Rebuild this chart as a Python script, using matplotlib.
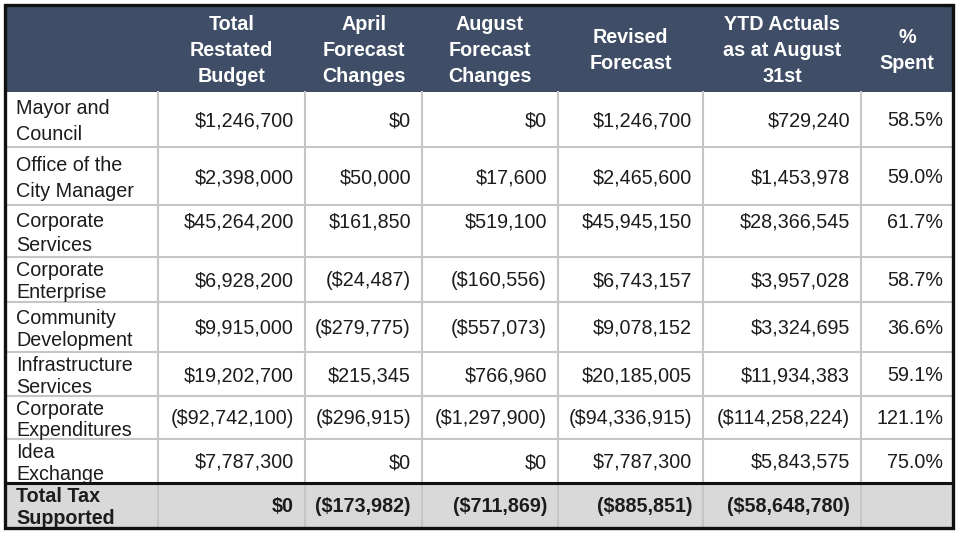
#!/usr/bin/env python3
"""
Budget variance table drawn with matplotlib patches and text.
"""

import matplotlib.pyplot as plt
import matplotlib.patches as patches

# Table data
col_headers = ['Total\nRestated\nBudget', 'April\nForecast\nChanges', 'August\nForecast\nChanges',
               'Revised\nForecast', 'YTD Actuals\nas at August\n31st', '%\nSpent']
row_labels = ['Mayor and\nCouncil', 'Office of the\nCity Manager', 'Corporate\nServices',
              'Corporate\nEnterprise', 'Community\nDevelopment', 'Infrastructure\nServices',
              'Corporate\nExpenditures', 'Idea\nExchange']
total_restated = [1246700, 2398000, 45264200, 6928200, 9915000, 19202700, -92742100, 7787300]
april_changes = [0, 50000, 161850, -24487, -279775, 215345, -296915, 0]
august_changes = [0, 17600, 519100, -160556, -557073, 766960, -1297900, 0]
revised_forecast = [1246700, 2465600, 45945150, 6743157, 9078152, 20185005, -94336915, 7787300]
ytd_actuals = [729240, 1453978, 28366545, 3957028, 3324695, 11934383, -114258224, 5843575]
pct_spent = [58.5, 59.0, 61.7, 58.7, 36.6, 59.1, 121.1, 75.0]
total_label = 'Total Tax\nSupported'
total_values = [0, -173982, -711869, -885851, -58648780]

# Layout in pixels
col_x = [5, 158, 305, 422, 558, 703, 861, 953]
row_y = [5, 92, 147, 205, 257, 302, 352, 396, 439, 483, 528]
label_gap = [26, 26, 24, 22, 23, 22, 21, 22]

colors = {
    'header': '#3f4e66',
    'total': '#d9d9d9',
    'grid': '#c6c6c6',
    'text': '#1c1c1c',
    'border': '#111111',
}
FONT = 'Liberation Sans'
FS = 14.2


def money(v):
    s = f"${abs(v):,}"
    return f"({s})" if v < 0 else s


fig = plt.figure(figsize=(9.6, 5.33), dpi=100)
ax = fig.add_axes([0, 0, 1, 1])
ax.set_xlim(0, 960)
ax.set_ylim(533, 0)
ax.axis('off')


def put_lines(x, yc, text, gap, ha, **kw):
    lines = text.split('\n')
    n = len(lines)
    for k, line in enumerate(lines):
        y = yc + (k - (n - 1) / 2) * gap
        ax.text(x, y + 7, line, ha=ha, va='baseline', family=FONT, fontsize=FS, **kw)


# Header background
ax.add_patch(patches.Rectangle((col_x[0], row_y[0]), col_x[-1] - col_x[0], row_y[1] - row_y[0],
                               facecolor=colors['header'], edgecolor='none'))
# Total row background
ax.add_patch(patches.Rectangle((col_x[0], row_y[-2]), col_x[-1] - col_x[0], row_y[-1] - row_y[-2],
                               facecolor=colors['total'], edgecolor='none'))

# Grid lines
for x in col_x[1:-1]:
    ax.plot([x, x], [row_y[1], row_y[-1]], color=colors['grid'], lw=1.5, zorder=1)
for y in row_y[2:-2]:
    ax.plot([col_x[0], col_x[-1]], [y, y], color=colors['grid'], lw=1.5, zorder=1)

# Borders
ax.plot([col_x[0], col_x[-1]], [row_y[-2], row_y[-2]], color=colors['border'], lw=2.2, zorder=3)
ax.add_patch(patches.Rectangle((col_x[0], row_y[0]), col_x[-1] - col_x[0], row_y[-1] - row_y[0],
                               facecolor='none', edgecolor=colors['border'], lw=2.4, zorder=4))

# Header text
for j, h in enumerate(col_headers):
    xc = (col_x[j + 1] + col_x[j + 2]) / 2
    put_lines(xc, 49, h, 26, 'center', color='white', fontweight='bold')

# Body rows
columns = [total_restated, april_changes, august_changes, revised_forecast, ytd_actuals]
for i, label in enumerate(row_labels):
    yc = (row_y[i + 1] + row_y[i + 2]) / 2
    put_lines(16, yc + 1, label, label_gap[i], 'left', color=colors['text'])
    vy = 221 if i == 2 else yc
    for j, col in enumerate(columns):
        put_lines(col_x[j + 2] - 11, vy, money(col[i]), 0, 'right', color=colors['text'])
    put_lines(col_x[7] - 10, vy, f"{pct_spent[i]:.1f}%", 0, 'right', color=colors['text'])

# Total row
yc = (row_y[-2] + row_y[-1]) / 2
put_lines(16, yc, total_label, 22, 'left', color=colors['text'], fontweight='bold')
for j, v in enumerate(total_values):
    put_lines(col_x[j + 2] - 11, yc, money(v), 0, 'right', color=colors['text'], fontweight='bold')

fig.savefig('out.png', dpi=100)
